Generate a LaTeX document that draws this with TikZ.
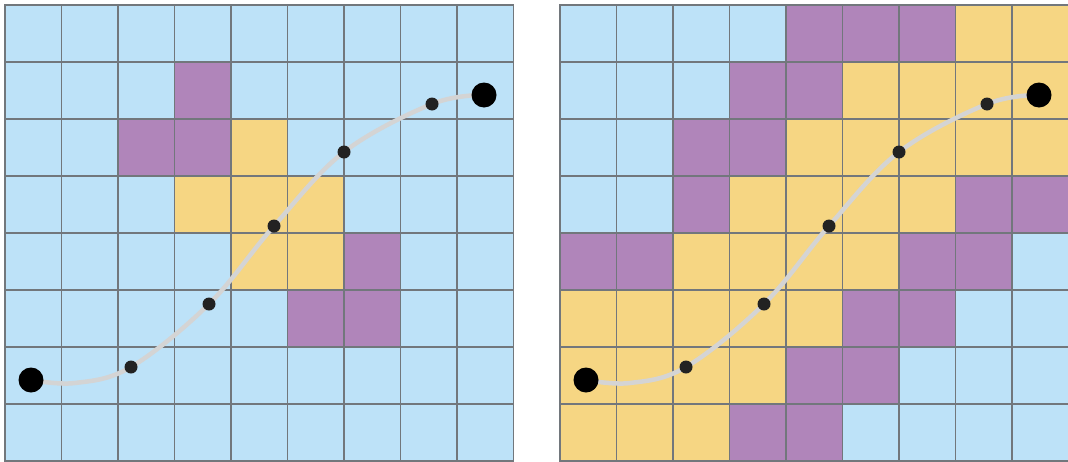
\documentclass[tikz,border=0pt]{standalone}
\definecolor{cb}{HTML}{BDE2F8}
\definecolor{cp}{HTML}{B085BA}
\definecolor{cy}{HTML}{F6D683}
\definecolor{gridc}{HTML}{72777C}
\definecolor{curvec}{HTML}{D4D4D4}
\definecolor{dotc}{HTML}{222222}
\tikzset{
  cell/.style={draw=gridc, line width=1.8pt},
  path curve/.style={draw=curvec, line width=4.5pt, line cap=round},
  bigdot/.style={circle, fill=black, inner sep=0pt, minimum size=25pt},
  smalldot/.style={circle, fill=dotc, inner sep=0pt, minimum size=13pt},
}
\begin{document}
\begin{tikzpicture}[x=1pt,y=-1pt]
\useasboundingbox (0,0) rectangle (1068,461);
\clip (0,0) rectangle (1068,461);
% left grid
\foreach \r/\lst in {0/{b,b,b,b,b,b,b,b,b},1/{b,b,b,p,b,b,b,b,b},2/{b,b,p,p,y,b,b,b,b},3/{b,b,b,y,y,y,b,b,b},4/{b,b,b,b,y,y,p,b,b},5/{b,b,b,b,b,p,p,b,b},6/{b,b,b,b,b,b,b,b,b},7/{b,b,b,b,b,b,b,b,b}}{
  \foreach \c [count=\i from 0] in \lst {
    \filldraw[cell, fill=c\c] ({5+56.5*\i},{5+57*\r}) rectangle ++(56.5,57);
  }
}
% right grid
\foreach \r/\lst in {0/{b,b,b,b,p,p,p,y,y},1/{b,b,b,p,p,y,y,y,y},2/{b,b,p,p,y,y,y,y,y},3/{b,b,p,y,y,y,y,p,p},4/{p,p,y,y,y,y,p,p,b},5/{y,y,y,y,y,p,p,b,b},6/{y,y,y,y,p,p,b,b,b},7/{y,y,y,p,p,b,b,b,b}}{
  \foreach \c [count=\i from 0] in \lst {
    \filldraw[cell, fill=c\c] ({560+56.5*\i},{5+57*\r}) rectangle ++(56.5,57);
  }
}
% curves and dots
\foreach \g/\dx in {L/0,R/555}{
  \coordinate (s\g) at ({31+\dx},380);
  \coordinate (a\g) at ({131+\dx},367);
  \coordinate (b\g) at ({209+\dx},304);
  \coordinate (c\g) at ({274+\dx},226);
  \coordinate (d\g) at ({344+\dx},152);
  \coordinate (e\g) at ({432+\dx},104);
  \coordinate (t\g) at ({484+\dx},95);
  \draw[path curve] plot[smooth, tension=0.6] coordinates {(s\g) ({75+\dx},383) (a\g) (b\g) (c\g) (d\g) (e\g) (t\g)};
  \node[bigdot] (S\g) at (s\g) {};
  \node[bigdot] (T\g) at (t\g) {};
  \foreach \p in {a,b,c,d,e}{
    \node[smalldot] (\p\g dot) at (\p\g) {};
  }
}
\end{tikzpicture}
\end{document}
